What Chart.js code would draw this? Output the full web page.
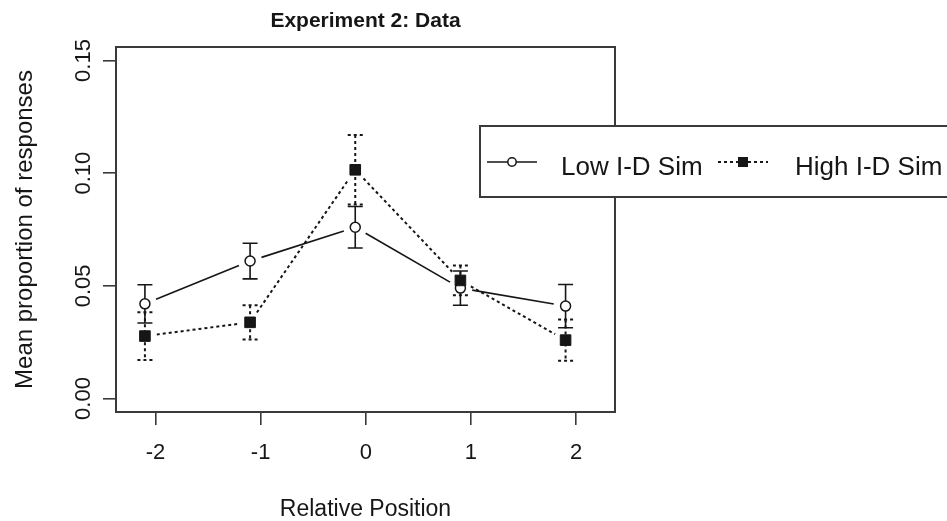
<!DOCTYPE html>
<html>
<head>
<meta charset="utf-8">
<script src="https://cdn.jsdelivr.net/npm/chart.js@4/dist/chart.umd.min.js"></script>
<style>
  html, body { margin: 0; padding: 0; background: #ffffff; }
  #wrap { width: 947px; height: 521px; }
</style>
</head>
<body>
<div id="wrap"><canvas id="chart" width="947" height="521"></canvas></div>
<script>
// Plotted x positions (each relative position drawn slightly to the left)
const positions = [-2.1, -1.1, -0.1, 0.9, 1.9];

// Low I-D similarity: means and error-bar half widths
const lowMeans = [0.042, 0.061, 0.076, 0.049, 0.041];
const lowErr   = [0.0085, 0.0079, 0.0092, 0.0076, 0.0096];

// High I-D similarity: means and error-bar half widths
const highMeans = [0.0277, 0.0338, 0.1015, 0.0524, 0.0259];
const highErr   = [0.0106, 0.0076, 0.0154, 0.0066, 0.0092];

// Axis ticks and labels
const xTicks = [-2, -1, 0, 1, 2];
const xTickLabels = ['-2', '-1', '0', '1', '2'];
const yTicks = [0, 0.05, 0.10, 0.15];
const yTickLabels = ['0.00', '0.05', '0.10', '0.15'];

const seriesNames = ['Low I-D Sim', 'High I-D Sim'];
const titleText = 'Experiment 2: Data';
const xTitle = 'Relative Position';
const yTitle = 'Mean proportion of responses';

const FONT = '"Liberation Sans", Arial, Helvetica, sans-serif';
const INK = '#161616';
const FRAME = '#3a3a3a';

function toPoints(xs, ys) {
  return xs.map((x, i) => ({ x: x, y: ys[i] }));
}

// Error bars, gapped connecting lines, frame, rotated y labels and legend
const rPlotPlugin = {
  id: 'rPlot',
  beforeDatasetsDraw(chart) {
    const ctx = chart.ctx;
    const xs = chart.scales.x, ys = chart.scales.y;
    const errs = [lowErr, highErr];
    chart.data.datasets.forEach((ds, di) => {
      const meta = chart.getDatasetMeta(di);
      const pts = meta.data;
      ctx.save();
      ctx.strokeStyle = INK;
      ctx.lineWidth = ds.rLineWidth;
      ctx.setLineDash(ds.rDash);
      // connecting segments with a gap around each marker
      const gap = 12;
      for (let i = 0; i < pts.length - 1; i++) {
        const a = pts[i], b = pts[i + 1];
        const dx = b.x - a.x, dy = b.y - a.y;
        const len = Math.hypot(dx, dy);
        if (len <= gap * 2) continue;
        const ux = dx / len, uy = dy / len;
        ctx.beginPath();
        ctx.moveTo(a.x + ux * gap, a.y + uy * gap);
        ctx.lineTo(b.x - ux * gap, b.y - uy * gap);
        ctx.stroke();
      }
      // error bars with caps
      const e = errs[di];
      const cap = 7.5;
      ds.data.forEach((p, i) => {
        const px = xs.getPixelForValue(p.x);
        const top = ys.getPixelForValue(p.y + e[i]);
        const bot = ys.getPixelForValue(p.y - e[i]);
        ctx.beginPath();
        ctx.moveTo(px, top); ctx.lineTo(px, bot);
        ctx.moveTo(px - cap, top); ctx.lineTo(px + cap, top);
        ctx.moveTo(px - cap, bot); ctx.lineTo(px + cap, bot);
        ctx.stroke();
      });
      ctx.restore();
    });
  },
  afterDraw(chart) {
    const ctx = chart.ctx;
    const area = chart.chartArea;
    const ys = chart.scales.y;

    // plot frame
    ctx.save();
    ctx.strokeStyle = FRAME;
    ctx.lineWidth = 2;
    ctx.strokeRect(area.left, area.top, area.right - area.left, area.bottom - area.top);
    ctx.restore();

    // y tick labels, parallel to the axis
    ctx.save();
    ctx.fillStyle = INK;
    ctx.font = '22px ' + FONT;
    ctx.textAlign = 'center';
    ctx.textBaseline = 'alphabetic';
    ys.ticks.forEach((t, i) => {
      const py = ys.getPixelForValue(t.value);
      ctx.save();
      ctx.translate(90, py);
      ctx.rotate(-Math.PI / 2);
      ctx.fillText(yTickLabels[i], 0, 0);
      ctx.restore();
    });
    ctx.restore();

    // legend box
    const box = { x: 480, y: 126, w: 490, h: 71 };
    ctx.save();
    ctx.fillStyle = '#ffffff';
    ctx.fillRect(box.x, box.y, box.w, box.h);
    ctx.strokeStyle = FRAME;
    ctx.lineWidth = 2;
    ctx.strokeRect(box.x, box.y, box.w, box.h);

    const cy = 162;
    const items = [
      { x0: 487, x1: 537, text: 561 },
      { x0: 718, x1: 768, text: 795 }
    ];
    chart.data.datasets.forEach((ds, di) => {
      const it = items[di];
      const mx = (it.x0 + it.x1) / 2;
      ctx.strokeStyle = INK;
      ctx.lineWidth = ds.rLineWidth;
      ctx.setLineDash(ds.rDash);
      ctx.beginPath();
      ctx.moveTo(it.x0, cy); ctx.lineTo(it.x1, cy);
      ctx.stroke();
      ctx.setLineDash([]);
      if (ds.pointStyle === 'circle') {
        ctx.beginPath();
        ctx.arc(mx, cy, 4.2, 0, Math.PI * 2);
        ctx.fillStyle = '#ffffff';
        ctx.fill();
        ctx.lineWidth = 1.5;
        ctx.stroke();
      } else {
        ctx.fillStyle = INK;
        ctx.fillRect(mx - 5, cy - 5, 10, 10);
      }
      ctx.fillStyle = INK;
      ctx.font = '26px ' + FONT;
      ctx.textAlign = 'left';
      ctx.textBaseline = 'alphabetic';
      ctx.fillText(ds.label, it.text, 175);
    });
    ctx.restore();
  }
};

const chart = new Chart(document.getElementById('chart'), {
  type: 'scatter',
  data: {
    datasets: [
      {
        label: seriesNames[0],
        data: toPoints(positions, lowMeans),
        showLine: false,
        pointStyle: 'circle',
        pointRadius: 5,
        pointBorderWidth: 1.5,
        pointBackgroundColor: '#ffffff',
        pointBorderColor: INK,
        rLineWidth: 1.6,
        rDash: [],
        order: 1
      },
      {
        label: seriesNames[1],
        data: toPoints(positions, highMeans),
        showLine: false,
        pointStyle: 'rect',
        pointRadius: 7.5,
        pointBorderWidth: 1,
        pointBackgroundColor: INK,
        pointBorderColor: INK,
        rLineWidth: 2,
        rDash: [3, 3],
        order: 0
      }
    ]
  },
  options: {
    responsive: false,
    animation: false,
    devicePixelRatio: 1,
    events: [],
    layout: { padding: { left: 0, right: 332, top: 0, bottom: 0 } },
    plugins: {
      legend: { display: false },
      tooltip: { enabled: false },
      title: {
        display: true,
        text: titleText,
        fullSize: false,
        color: INK,
        font: { family: FONT, size: 21, weight: 'bold', lineHeight: 1.2 },
        padding: { top: 8.4, bottom: 13.4 }
      }
    },
    scales: {
      x: {
        type: 'linear',
        min: -2.375,
        max: 2.37,
        afterBuildTicks(scale) { scale.ticks = xTicks.map(v => ({ value: v })); },
        afterFit(scale) { scale.height = 109; },
        ticks: {
          color: INK,
          font: { family: FONT, size: 22 },
          padding: 15,
          maxRotation: 0,
          minRotation: 0,
          callback(value) {
            const i = xTicks.indexOf(value);
            return i >= 0 ? xTickLabels[i] : '';
          }
        },
        grid: {
          display: true,
          drawOnChartArea: false,
          drawTicks: true,
          tickLength: 13,
          color: FRAME,
          lineWidth: 1.6
        },
        border: { display: false },
        title: {
          display: true,
          text: xTitle,
          color: INK,
          font: { family: FONT, size: 23, lineHeight: 1 },
          padding: { top: 0, bottom: 0 }
        }
      },
      y: {
        type: 'linear',
        min: -0.006,
        max: 0.156,
        afterBuildTicks(scale) { scale.ticks = yTicks.map(v => ({ value: v })); },
        afterFit(scale) { scale.width = 116; },
        ticks: { display: false },
        grid: {
          display: true,
          drawOnChartArea: false,
          drawTicks: true,
          tickLength: 13,
          color: FRAME,
          lineWidth: 1.6
        },
        border: { display: false },
        title: {
          display: true,
          text: yTitle,
          color: INK,
          font: { family: FONT, size: 24, lineHeight: 1 },
          padding: { top: 13, bottom: 0 }
        }
      }
    }
  },
  plugins: [rPlotPlugin]
});
</script>
</body>
</html>
